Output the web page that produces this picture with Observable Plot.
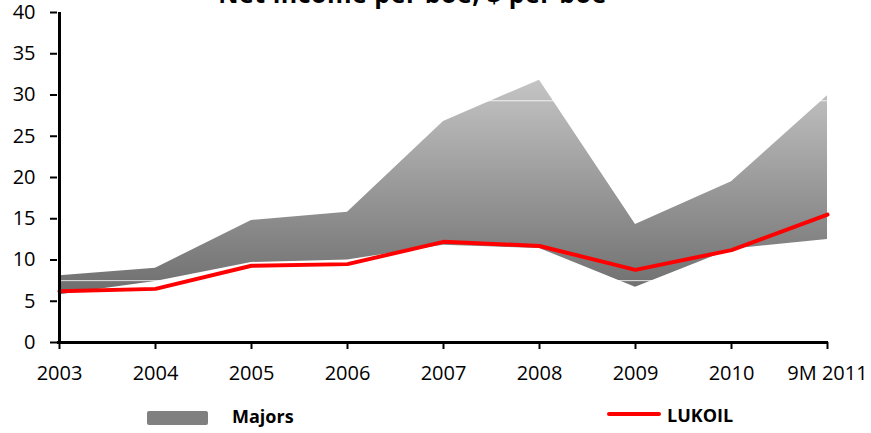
<!DOCTYPE html>
<html>
<head>
<meta charset="utf-8">
<script src="https://cdn.jsdelivr.net/npm/d3@7"></script>
<script src="https://cdn.jsdelivr.net/npm/@observablehq/plot@0.6"></script>
<style>
  html, body { margin: 0; padding: 0; background: #fff; }
  #wrap { position: relative; width: 871px; height: 433px; overflow: hidden; font-family: "Open Sans", sans-serif; }
  #title { position: absolute; left: 0; width: 825px; text-align: center; top: -24px; font-size: 25px; letter-spacing: 0.5px; font-weight: bold; color: #000; white-space: nowrap; line-height: normal; }
  .leg { position: absolute; font-size: 18px; font-weight: bold; color: #000; white-space: nowrap; }
  svg { overflow: visible; }
</style>
</head>
<body>
<div id="wrap">
  <div id="chart"></div>
  <div id="title">Net income per boe, $ per boe</div>
  <div style="position:absolute;left:147px;top:411px;width:61px;height:14px;background:#808080;border-radius:2px;"></div>
  <div class="leg" style="left:232px;top:404px;">Majors</div>
  <div style="position:absolute;left:607px;top:412px;width:54px;height:4px;background:#ff0000;border-radius:2px;"></div>
  <div class="leg" style="left:667px;top:403px;">LUKOIL</div>
</div>
<script>
const categories = ["2003", "2004", "2005", "2006", "2007", "2008", "2009", "2010", "9M 2011"];
const majorsHigh = [8.1, 9.0, 14.8, 15.8, 26.8, 31.8, 14.3, 19.5, 29.9];
const majorsLow  = [5.8, 7.4, 9.7, 10.0, 11.8, 11.4, 6.7, 11.3, 12.5];
const lukoil     = [6.2, 6.5, 9.3, 9.5, 12.2, 11.7, 8.8, 11.2, 15.5];
const yTicks = [0, 5, 10, 15, 20, 25, 30, 35, 40];
const hiddenGrid = [7.5, 29.3];

const majors = categories.map((c, i) => ({cat: c, low: majorsLow[i], high: majorsHigh[i]}));
const luk = categories.map((c, i) => ({cat: c, v: lukoil[i]}));

const defs = () => {
  const d = d3.create("svg:defs");
  const g = d.append("linearGradient").attr("id", "majGrad").attr("x1", 0).attr("y1", 0).attr("x2", 0).attr("y2", 1);
  g.append("stop").attr("offset", "0%").attr("stop-color", "#c4c4c4");
  g.append("stop").attr("offset", "100%").attr("stop-color", "#6e6e6e");
  return d.node();
};

const chart = Plot.plot({
  width: 871,
  height: 433,
  marginTop: 12,
  marginBottom: 91,
  marginLeft: 57,
  marginRight: 43,
  style: {fontFamily: "Open Sans, sans-serif", fontSize: "20px", color: "#000", background: "transparent", overflow: "visible"},
  x: {type: "point", domain: categories, padding: 0},
  y: {domain: [0, 40]},
  marks: [
    defs,
    Plot.areaY(majors, {x: "cat", y1: "low", y2: "high", fill: "url(#majGrad)", curve: "linear"}),
    Plot.ruleY(hiddenGrid, {stroke: "#ffffff", strokeOpacity: 0.8, strokeWidth: 1}),
    Plot.lineY(luk, {x: "cat", y: "v", stroke: "#ff0000", strokeWidth: 4, curve: "linear"}),
    Plot.axisY({ticks: yTicks, tickSize: 7, tickPadding: 15, strokeWidth: 2, fontSize: 20, label: null}),
    Plot.axisX({tickSize: 7, tickPadding: 16, strokeWidth: 2, fontSize: 20, label: null}),
    Plot.ruleX([categories[0]], {stroke: "#000", strokeWidth: 3}),
    Plot.ruleY([0], {stroke: "#000", strokeWidth: 3})
  ]
});
document.getElementById("chart").appendChild(chart);
</script>
</body>
</html>
